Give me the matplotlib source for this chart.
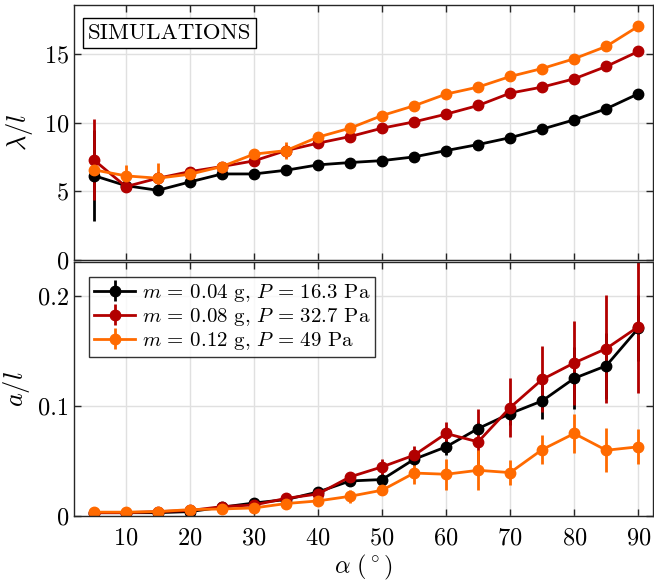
import numpy as np
import matplotlib.pyplot as plt

plt.rcParams['font.family'] = 'serif'
plt.rcParams['font.serif'] = ['cmr10']
plt.rcParams['mathtext.fontset'] = 'cm'
plt.rcParams['axes.formatter.use_mathtext'] = True

alpha = [5, 10, 15, 20, 25, 30, 35, 40, 45, 50, 55, 60, 65, 70, 75, 80, 85, 90]

# lambda / l
lam_k = [6.14, 5.41, 5.07, 5.68, 6.26, 6.26, 6.53, 6.92, 7.09, 7.23, 7.5, 7.96, 8.4, 8.9, 9.52, 10.2, 11.0, 12.09]
lam_k_err = [3.3, 0.2, 0.2, 0.2, 0.15, 0.15, 0.15, 0.15, 0.15, 0.15, 0.15, 0.15, 0.15, 0.15, 0.15, 0.15, 0.15, 0.15]
lam_r = [7.28, 5.34, 5.95, 6.43, 6.8, 7.21, 7.96, 8.5, 8.98, 9.59, 10.05, 10.61, 11.24, 12.14, 12.58, 13.18, 14.08, 15.17]
lam_r_err = [2.95, 0.2, 0.2, 0.2, 0.2, 0.2, 0.3, 0.2, 0.2, 0.2, 0.2, 0.2, 0.2, 0.2, 0.2, 0.2, 0.2, 0.2]
lam_o = [6.56, 6.12, 5.95, 6.24, 6.8, 7.7, 7.96, 8.94, 9.59, 10.51, 11.22, 12.07, 12.58, 13.35, 13.93, 14.64, 15.54, 17.0]
lam_o_err = [0.8, 0.8, 1.1, 0.3, 0.2, 0.2, 0.6, 0.3, 0.2, 0.2, 0.2, 0.2, 0.2, 0.2, 0.2, 0.2, 0.2, 0.2]

# a / l
a_k = [0.003, 0.003, 0.003, 0.004, 0.008, 0.0118, 0.0149, 0.0218, 0.0318, 0.0331, 0.0515, 0.0628, 0.0794, 0.093, 0.1045, 0.125, 0.1364, 0.1703]
a_k_err = [0.001, 0.001, 0.001, 0.001, 0.001, 0.002, 0.002, 0.003, 0.003, 0.003, 0.005, 0.007, 0.006, 0.01, 0.016, 0.028, 0.03, 0.03]
a_r = [0.003, 0.003, 0.004, 0.005, 0.0085, 0.01, 0.016, 0.02, 0.0355, 0.0446, 0.0552, 0.0749, 0.0673, 0.0985, 0.124, 0.139, 0.152, 0.1718]
a_r_err = [0.001, 0.001, 0.001, 0.001, 0.001, 0.002, 0.003, 0.003, 0.004, 0.007, 0.008, 0.01, 0.03, 0.027, 0.03, 0.038, 0.049, 0.06]
a_o = [0.0035, 0.0035, 0.004, 0.0058, 0.0064, 0.0073, 0.0113, 0.0137, 0.0179, 0.0234, 0.039, 0.0379, 0.0415, 0.0394, 0.0603, 0.0749, 0.0597, 0.0628]
a_o_err = [0.001, 0.001, 0.001, 0.001, 0.001, 0.002, 0.002, 0.003, 0.006, 0.004, 0.01, 0.014, 0.018, 0.011, 0.013, 0.018, 0.02, 0.016]

labels = [r'$m\,=\,0.04$ g, $P\,=\,16.3$ Pa',
          r'$m\,=\,0.08$ g, $P\,=\,32.7$ Pa',
          r'$m\,=\,0.12$ g, $P\,=\,49$ Pa']
colors = ['#000000', '#b20000', '#ff6a00']

fig = plt.figure(figsize=(6.54, 5.82), dpi=100)
ax1 = fig.add_axes([74/654, 1 - 260/582, 579/654, 255/582])
ax2 = fig.add_axes([74/654, 1 - 516/582, 579/654, 254/582])


def style(ax):
    ax.grid(True, color='#e0e0e0', linewidth=1)
    ax.set_axisbelow(True)
    ax.tick_params(direction='in', top=True, right=True, labelsize=17.5,
                   length=5, color='#262626', width=1)
    ax.tick_params(axis='x', pad=8)
    for s in ax.spines.values():
        s.set_color('#262626')
        s.set_linewidth(1)
    ax.set_xlim(1.9, 92.3)
    ax.set_xticks(range(10, 91, 10))


for y, e, c in zip([lam_k, lam_r, lam_o], [lam_k_err, lam_r_err, lam_o_err], colors):
    ax1.errorbar(alpha, y, yerr=e, color=c, marker='o', markersize=7.5,
                 linewidth=2, elinewidth=2, capsize=0)
for y, e, c, l in zip([a_k, a_r, a_o], [a_k_err, a_r_err, a_o_err], colors, labels):
    ax2.errorbar(alpha, y, yerr=e, color=c, marker='o', markersize=7.5,
                 linewidth=2, elinewidth=2, capsize=0, label=l)

style(ax1)
style(ax2)
ax1.set_ylim(0, 18.55)
ax1.set_yticks([0, 5, 10, 15])
ax1.set_xticklabels([])
ax1.set_ylabel(r'$\lambda/l$', fontsize=19, labelpad=6)
ax1.text(0.024, 0.89, 'SIMULATIONS', transform=ax1.transAxes, fontsize=16.5,
         va='center', ha='left',
         bbox=dict(boxstyle='square,pad=0.22', facecolor='white', edgecolor='black', linewidth=1))

ax2.set_ylim(0, 0.2306)
ax2.set_yticks([0, 0.1, 0.2])
ax2.set_yticklabels(['0', '0.1', '0.2'])
ax2.set_ylabel(r'$a/l$', fontsize=19, labelpad=4)
ax2.set_xlabel(r'$\alpha\ (^\circ)$', fontsize=17.5, labelpad=2.5)
leg = ax2.legend(loc='upper left', fontsize=15, frameon=True, fancybox=False,
                 edgecolor='black', borderpad=0.25, labelspacing=0.1,
                 handlelength=2.0, handletextpad=0.3, borderaxespad=0.7)
leg.get_frame().set_linewidth(1)

fig.savefig('out.png', dpi=100)
